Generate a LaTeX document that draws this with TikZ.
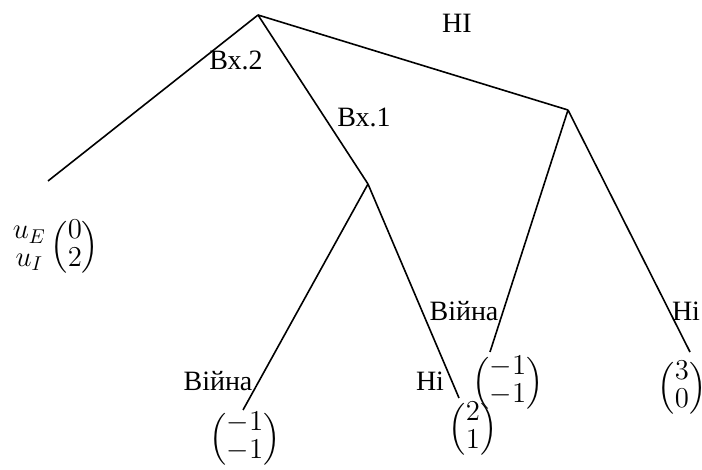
\documentclass[tikz,border=0pt]{standalone}
\usepackage{amsmath}
\usepackage{fontspec}
\setmainfont{Liberation Serif}
\renewcommand{\arraystretch}{0.85}
\begin{document}
\begin{tikzpicture}[x=0.5pt,y=-0.5pt,line width=0.8pt,
    lbl/.style={inner sep=0pt,font=\fontsize{14}{16}\selectfont},
    pay/.style={inner sep=0pt,font=\fontsize{14}{16}\selectfont}]
    \useasboundingbox (0,0) rectangle (702,470);
    % tree points
    \coordinate (r) at (258,15);
    \coordinate (e2) at (48,181);
    \coordinate (e1) at (368,184);
    \coordinate (n) at (568,110);
    \coordinate (e1v) at (243,410);
    \coordinate (e1n) at (459,398);
    \coordinate (nv) at (490,352);
    \coordinate (nn) at (690,352);
    \draw (r) -- (e2);
    \draw (r) -- (e1);
    \draw (r) -- (n);
    \draw (e1) -- (e1v);
    \draw (e1) -- (e1n);
    \draw (n) -- (nv);
    \draw (n) -- (nn);
    % labels
    \node[lbl] (l2) at (236,60) {Вх.2};
    \node[lbl] (l1) at (364,117) {Вх.1};
    \node[lbl] (lno) at (457,23) {НІ};
    \node[lbl] (lv1) at (218,381) {Війна};
    \node[lbl] (ln1) at (430,381) {Ні};
    \node[lbl] (lv2) at (464,311) {Війна};
    \node[lbl] (ln2) at (686,311) {Ні};
    % payoffs
    \node[pay] (p2) at (56,247) {$\begin{matrix} u_E\\ u_I\end{matrix}\begin{pmatrix}0\\2\end{pmatrix}$};
    \node[pay] (p11) at (245,439) {$\begin{pmatrix}-1\\-1\end{pmatrix}$};
    \node[pay] (p12) at (473,429) {$\begin{pmatrix}2\\1\end{pmatrix}$};
    \node[pay] (p21) at (508,383) {$\begin{pmatrix}-1\\-1\end{pmatrix}$};
    \node[pay] (p22) at (682,388) {$\begin{pmatrix}3\\0\end{pmatrix}$};
\end{tikzpicture}
\end{document}
